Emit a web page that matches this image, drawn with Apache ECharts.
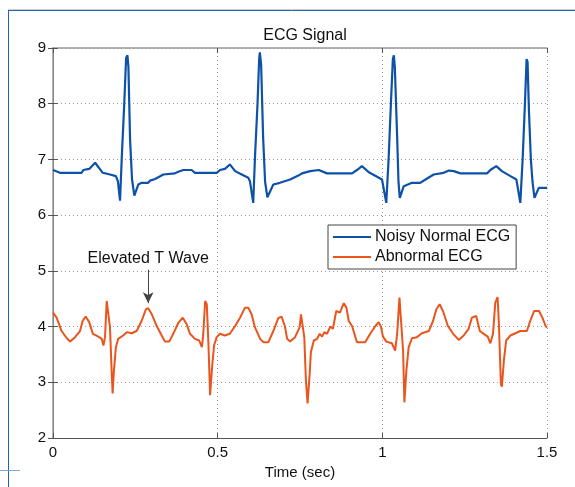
<!DOCTYPE html>
<html>
<head>
<meta charset="utf-8">
<script src="https://cdn.jsdelivr.net/npm/echarts@6/dist/echarts.min.js"></script>
<style>
  html, body { margin: 0; padding: 0; background: #fff; }
  #chart { width: 575px; height: 487px; }
</style>
</head>
<body>
<div id="chart"></div>
<script>
// time (sec) and amplitude
const normalTime = [
  0.000, 0.021, 0.087, 0.092, 0.110, 0.128, 0.151, 0.173, 0.191, 0.197, 0.2035,
  0.209, 0.216, 0.222, 0.226, 0.229, 0.234, 0.240, 0.247,
  0.259, 0.269, 0.289, 0.295, 0.310, 0.335, 0.370, 0.380, 0.396, 0.421, 0.431,
  0.497, 0.507, 0.522, 0.537, 0.553, 0.573, 0.593, 0.598, 0.608,
  0.613, 0.621, 0.626, 0.628, 0.632, 0.638, 0.644, 0.651,
  0.669, 0.689, 0.720, 0.745, 0.756, 0.781, 0.807, 0.832, 0.908, 0.923, 0.938,
  0.959, 0.984, 0.999, 1.012,
  1.019, 1.026, 1.032, 1.035, 1.038, 1.045, 1.049, 1.053,
  1.065, 1.090, 1.115, 1.131, 1.156, 1.186, 1.202, 1.217, 1.237, 1.318, 1.328,
  1.346, 1.363, 1.389, 1.407, 1.419,
  1.426, 1.433, 1.438, 1.441, 1.445, 1.451, 1.456, 1.462, 1.475, 1.500
];
const normalEcg = [
  6.81, 6.76, 6.76, 6.81, 6.83, 6.94, 6.76, 6.73, 6.70, 6.61, 6.26,
  7.06, 7.95, 8.82, 8.87, 8.66, 7.36, 6.64, 6.35,
  6.55, 6.58, 6.58, 6.62, 6.65, 6.73, 6.75, 6.78, 6.81, 6.81, 6.76,
  6.76, 6.81, 6.83, 6.91, 6.79, 6.73, 6.67, 6.61, 6.22,
  7.00, 8.00, 8.80, 8.92, 8.70, 7.40, 6.60, 6.32,
  6.55, 6.58, 6.64, 6.71, 6.75, 6.79, 6.81, 6.75, 6.75, 6.81, 6.88,
  6.77, 6.69, 6.64, 6.22,
  7.00, 8.00, 8.80, 8.87, 8.65, 7.40, 6.60, 6.31,
  6.52, 6.58, 6.58, 6.64, 6.73, 6.76, 6.80, 6.79, 6.75, 6.75, 6.81,
  6.88, 6.79, 6.70, 6.64, 6.22,
  7.00, 8.00, 8.80, 8.75, 7.90, 7.00, 6.60, 6.31, 6.49, 6.49
];

const abnormalTime = [
  0.000, 0.011, 0.026, 0.042, 0.052, 0.067, 0.082, 0.090, 0.099, 0.110, 0.121,
  0.138, 0.148, 0.153, 0.158, 0.163, 0.168, 0.173, 0.178, 0.181, 0.185, 0.191,
  0.198, 0.213, 0.224, 0.239, 0.254, 0.269, 0.282, 0.289, 0.300, 0.315, 0.330,
  0.340, 0.353, 0.365, 0.380, 0.394, 0.406, 0.416, 0.431, 0.444, 0.452, 0.456,
  0.462, 0.467, 0.472, 0.477, 0.483, 0.489, 0.497, 0.507, 0.522, 0.537, 0.553,
  0.568, 0.583, 0.593, 0.603, 0.613, 0.629, 0.639, 0.654, 0.669, 0.684, 0.694,
  0.704, 0.711, 0.720, 0.735, 0.741, 0.749, 0.753, 0.759, 0.763, 0.768, 0.773,
  0.780, 0.783, 0.792, 0.802, 0.810, 0.817, 0.824, 0.832, 0.842, 0.850, 0.860,
  0.871, 0.883, 0.891, 0.898, 0.908, 0.923, 0.948, 0.963, 0.979, 0.989, 0.996,
  1.002, 1.012, 1.029, 1.039, 1.045, 1.052, 1.058, 1.063, 1.067, 1.073, 1.080,
  1.090, 1.105, 1.120, 1.141, 1.154, 1.164, 1.174, 1.184, 1.199, 1.215, 1.232,
  1.247, 1.262, 1.272, 1.285, 1.296, 1.308, 1.320, 1.328, 1.336, 1.343, 1.350,
  1.354, 1.360, 1.363, 1.369, 1.376, 1.389, 1.404, 1.419, 1.439, 1.449, 1.461,
  1.476, 1.486, 1.496, 1.500
];
const abnormalEcg = [
  4.25, 4.16, 3.92, 3.79, 3.73, 3.81, 3.92, 4.10, 4.18, 4.08, 3.87,
  3.82, 3.78, 3.66, 3.81, 4.46, 4.43, 3.99, 3.21, 2.80, 3.21, 3.63,
  3.78, 3.84, 3.90, 3.88, 3.92, 4.10, 4.31, 4.33, 4.22, 4.01, 3.84,
  3.73, 3.73, 3.87, 4.06, 4.16, 4.04, 3.87, 3.78, 3.75, 3.63, 3.84,
  4.46, 4.40, 3.69, 2.77, 3.27, 3.66, 3.81, 3.87, 3.84, 3.87, 4.01,
  4.16, 4.34, 4.34, 4.22, 3.99, 3.78, 3.72, 3.72, 3.92, 4.15, 4.18,
  4.01, 3.78, 3.73, 3.81, 3.78, 3.99, 4.22, 4.19, 3.81, 3.03, 2.62,
  3.21, 3.54, 3.75, 3.78, 3.87, 3.82, 3.90, 3.87, 4.00, 3.96, 4.28,
  4.25, 4.42, 4.34, 4.10, 4.01, 3.72, 3.72, 3.87, 4.01, 4.08, 3.99,
  3.82, 3.73, 3.70, 3.57, 3.87, 4.52, 4.49, 3.57, 2.64, 3.21, 3.63,
  3.79, 3.81, 3.88, 3.92, 4.10, 4.31, 4.40, 4.28, 4.01, 3.87, 3.76,
  3.84, 3.96, 4.16, 4.19, 3.92, 3.87, 3.82, 3.70, 3.87, 4.43, 4.53,
  4.04, 2.97, 2.92, 3.39, 3.75, 3.84, 3.88, 3.92, 3.92, 4.10, 4.28,
  4.28, 4.16, 4.01, 3.98
];

const xTicks = [0, 0.5, 1, 1.5];
const yTicks = [2, 3, 4, 5, 6, 7, 8, 9];

// annotation arrow: from (t, top) down to the T wave peak
const noteTime = 0.289;
const noteFrom = 5.02;
const noteTo = 4.42;

const pairs = (ts, vs) => ts.map((t, i) => [t, vs[i]]);

const chart = echarts.init(document.getElementById("chart"), null, { renderer: "canvas" });

const font = "'Liberation Sans', Arial, Helvetica, sans-serif";
const gridLine = { show: true, lineStyle: { color: "#9a9a9a", type: [1, 3], width: 1 } };

const option = {
  animation: false,
  backgroundColor: "#fff",
  textStyle: { fontFamily: font },
  title: {
    text: "ECG Signal",
    left: 300,
    top: 23,
    textAlign: "center",
    textStyle: { fontSize: 16, fontWeight: "normal", color: "#111", fontFamily: font },
  },
  grid: { left: 53, right: 28, top: 48, bottom: 49, show: false },
  legend: {
    orient: "vertical",
    left: 328,
    top: 225,
    icon: "rect",
    itemWidth: 38,
    itemHeight: 2,
    itemGap: 4,
    padding: [4, 6, 4, 5],
    backgroundColor: "#fff",
    borderColor: "#444",
    borderWidth: 1,
    textStyle: { fontSize: 16, color: "#111", fontFamily: font, padding: [0, 0, 0, -1] },
    data: ["Noisy Normal ECG", "Abnormal ECG"],
  },
  xAxis: [
    {
      type: "value",
      min: 0,
      max: 1.5,
      interval: 0.5,
      name: "Time (sec)",
      nameLocation: "middle",
      nameGap: 24,
      nameTextStyle: { fontSize: 15, color: "#111", fontFamily: font },
      axisLine: { show: true, lineStyle: { color: "#555", width: 1 } },
      axisTick: { show: true, inside: true, length: 5, lineStyle: { color: "#555" } },
      axisLabel: {
        fontSize: 15, color: "#111", margin: 7, fontFamily: font,
        formatter: (v) => (xTicks.includes(v) ? String(v) : ""),
      },
      splitLine: gridLine,
    },
    {
      type: "value",
      position: "top",
      min: 0,
      max: 1.5,
      interval: 0.5,
      axisLine: { show: true, lineStyle: { color: "#999", width: 1.5 } },
      axisTick: { show: true, inside: true, length: 5, lineStyle: { color: "#555" } },
      axisLabel: { show: false },
      splitLine: { show: false },
    },
  ],
  yAxis: [
    {
      type: "value",
      min: 2,
      max: 9,
      interval: 1,
      axisLine: { show: true, lineStyle: { color: "#555", width: 1 } },
      axisTick: { show: true, inside: true, length: 5, lineStyle: { color: "#555" } },
      axisLabel: {
        fontSize: 15, color: "#111", margin: 7, fontFamily: font,
        formatter: (v) => (yTicks.includes(v) ? String(v) : ""),
      },
      splitLine: gridLine,
    },
    {
      type: "value",
      position: "right",
      min: 2,
      max: 9,
      interval: 1,
      axisLine: { show: true, lineStyle: { color: "#999", width: 1.5 } },
      axisTick: { show: true, inside: true, length: 5, lineStyle: { color: "#555" } },
      axisLabel: { show: false },
      splitLine: { show: false },
    },
  ],
  series: [
    {
      name: "Noisy Normal ECG",
      type: "line",
      data: pairs(normalTime, normalEcg),
      showSymbol: false,
      color: "#0d52a8",
      lineStyle: { width: 2.2, color: "#0d52a8" },
      z: 3,
    },
    {
      name: "Abnormal ECG",
      type: "line",
      data: pairs(abnormalTime, abnormalEcg),
      showSymbol: false,
      color: "#ea541d",
      lineStyle: { width: 2, color: "#ea541d" },
      z: 3,
      markLine: {
        silent: true,
        symbol: ["none", "arrow"],
        symbolSize: [8, 11],
        lineStyle: { color: "#444", width: 1, type: "solid" },
        label: {
          show: true,
          position: "start",
          distance: 3,
          formatter: "Elevated T Wave",
          color: "#111",
          fontSize: 16,
          fontFamily: font,
        },
        data: [[{ coord: [noteTime, noteFrom] }, { coord: [noteTime, noteTo] }]],
      },
    },
  ],
  graphic: [
    { type: "line", shape: { x1: 8, y1: 9.5, x2: 575, y2: 9.5 }, style: { stroke: "#d0d0d0", lineWidth: 1 }, silent: true },
    { type: "line", shape: { x1: 8, y1: 10.5, x2: 575, y2: 10.5 }, style: { stroke: "#1f64b0", lineWidth: 1 }, silent: true },
    { type: "line", shape: { x1: 8.5, y1: 10, x2: 8.5, y2: 487 }, style: { stroke: "#1f64b0", lineWidth: 1 }, silent: true },
    { type: "line", shape: { x1: 0, y1: 470.5, x2: 20, y2: 470.5 }, style: { stroke: "#7fa6d4", lineWidth: 1 }, silent: true },
  ],
};

chart.setOption(option);
</script>
</body>
</html>
